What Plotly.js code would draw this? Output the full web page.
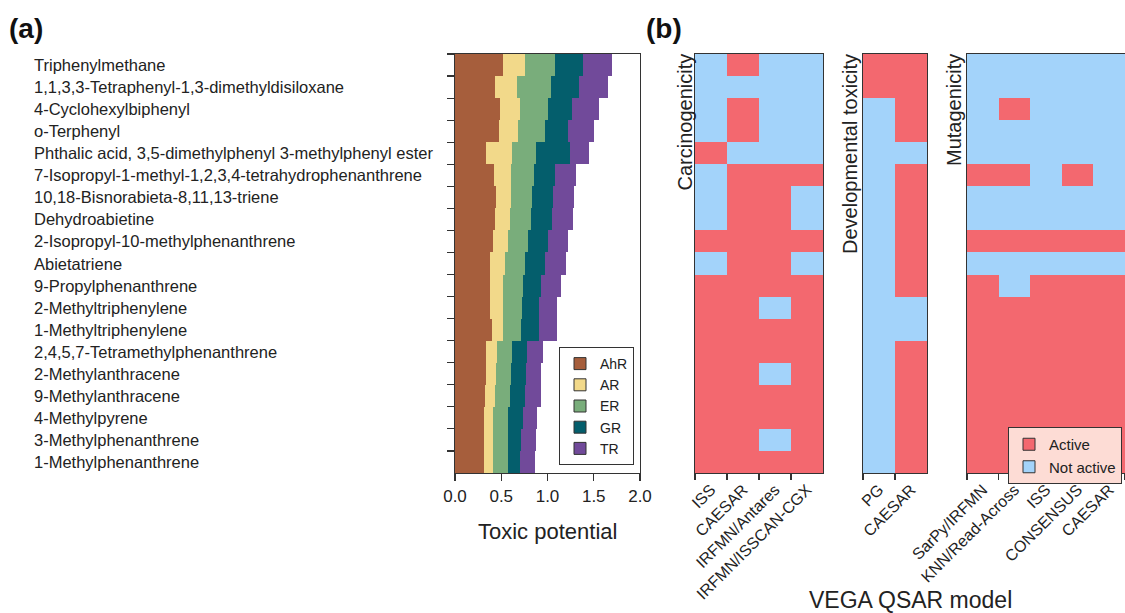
<!DOCTYPE html>
<html>
<head>
<meta charset="utf-8">
<script src="https://cdn.plot.ly/plotly-3.0.1.min.js"></script>
<style>
html, body { margin: 0; padding: 0; overflow: hidden; background: #fff; }
#chart { width: 1125px; height: 613px; }
</style>
</head>
<body>
<div id="chart"></div>
<script>
// ---------- data ----------
const compounds = [
  "Triphenylmethane",
  "1,1,3,3-Tetraphenyl-1,3-dimethyldisiloxane",
  "4-Cyclohexylbiphenyl",
  "o-Terphenyl",
  "Phthalic acid, 3,5-dimethylphenyl 3-methylphenyl ester",
  "7-Isopropyl-1-methyl-1,2,3,4-tetrahydrophenanthrene",
  "10,18-Bisnorabieta-8,11,13-triene",
  "Dehydroabietine",
  "2-Isopropyl-10-methylphenanthrene",
  "Abietatriene",
  "9-Propylphenanthrene",
  "2-Methyltriphenylene",
  "1-Methyltriphenylene",
  "2,4,5,7-Tetramethylphenanthrene",
  "2-Methylanthracene",
  "9-Methylanthracene",
  "4-Methylpyrene",
  "3-Methylphenanthrene",
  "1-Methylphenanthrene"
];
const seriesNames = ["AhR", "AR", "ER", "GR", "TR"];
const ahr = [0.52,0.43,0.49,0.48,0.335,0.425,0.44,0.43,0.415,0.38,0.38,0.38,0.40,0.34,0.335,0.325,0.315,0.315,0.315];
const ar  = [0.24,0.24,0.21,0.20,0.285,0.18,0.165,0.165,0.155,0.16,0.135,0.135,0.12,0.11,0.105,0.105,0.10,0.10,0.10];
const er  = [0.32,0.37,0.31,0.29,0.26,0.245,0.225,0.225,0.22,0.22,0.215,0.205,0.195,0.17,0.165,0.165,0.16,0.155,0.155];
const gr  = [0.30,0.30,0.26,0.25,0.36,0.23,0.23,0.225,0.21,0.21,0.20,0.185,0.19,0.155,0.16,0.16,0.155,0.145,0.13];
const tr  = [0.32,0.31,0.29,0.28,0.21,0.23,0.23,0.235,0.225,0.23,0.22,0.20,0.20,0.18,0.17,0.17,0.16,0.16,0.165];
const xTicks = [0, 0.5, 1.0, 1.5, 2.0];

const carcModels = ["ISS", "CAESAR", "IRFMN/Antares", "IRFMN/ISSCAN-CGX"];
const devModels  = ["PG", "CAESAR"];
const mutModels  = ["SarPy/IRFMN", "KNN/Read-Across", "ISS", "CONSENSUS", "CAESAR"];
// 1 = Active, 0 = Not active ; rows follow `compounds`
const carcActive = [
  [0,1,0,0],[0,0,0,0],[0,1,0,0],[0,1,0,0],[1,0,0,0],
  [0,1,1,1],[0,1,1,0],[0,1,1,0],[1,1,1,1],[0,1,1,0],
  [1,1,1,1],[1,1,0,1],[1,1,1,1],[1,1,1,1],[1,1,0,1],
  [1,1,1,1],[1,1,1,1],[1,1,0,1],[1,1,1,1]
];
const devActive = [
  [1,1],[1,1],[0,1],[0,1],[0,0],
  [0,1],[0,1],[0,1],[0,1],[0,1],
  [0,1],[0,0],[0,0],[0,1],[0,1],
  [0,1],[0,1],[0,1],[0,1]
];
const mutActive = [
  [0,0,0,0,0],[0,0,0,0,0],[0,1,0,0,0],[0,0,0,0,0],[0,0,0,0,0],
  [1,1,0,1,0],[0,0,0,0,0],[0,0,0,0,0],[1,1,1,1,1],[0,0,0,0,0],
  [1,0,1,1,1],[1,1,1,1,1],[1,1,1,1,1],[1,1,1,1,1],[1,1,1,1,1],
  [1,1,1,1,1],[1,1,1,1,1],[1,1,1,1,1],[1,1,1,1,1]
];
const activityNames = ["Active", "Not active"];

// ---------- styling ----------
const W = 1125, H = 613;
const px = v => v / W;
const py = v => 1 - v / H;
const FONT = "Liberation Sans, Arial, sans-serif";
const TXT = "#222";
const LINE = "#333";
const seriesColors = ["#a65e3c", "#f2d98a", "#79ad7b", "#045e6c", "#714a9a"];
const RED = "#f3686f", BLUE = "#a3d3fa";
const seriesData = [ahr, ar, er, gr, tr];

const traces = [];
seriesData.forEach((vals, i) => {
  traces.push({
    type: "bar", orientation: "h", x: vals, y: compounds,
    name: seriesNames[i], showlegend: false,
    marker: { color: seriesColors[i], line: { width: 0 } },
    xaxis: "x", yaxis: "y", hoverinfo: "skip"
  });
});
// legend entries for bars
seriesData.forEach((vals, i) => {
  traces.push({
    type: "bar", orientation: "h", x: [null], y: [compounds[0]],
    name: seriesNames[i], showlegend: true, legend: "legend",
    marker: { color: seriesColors[i], line: { width: 1, color: LINE } },
    xaxis: "x", yaxis: "y", hoverinfo: "skip"
  });
});

const cs = [[0, BLUE], [0.5, BLUE], [0.5, RED], [1, RED]];
[[carcModels, carcActive, "x2", "y2"], [devModels, devActive, "x3", "y3"], [mutModels, mutActive, "x4", "y4"]]
  .forEach(([models, z, xa, ya]) => {
    traces.push({
      type: "heatmap", x: models, y: compounds, z: z,
      zmin: 0, zmax: 1, colorscale: cs, showscale: false,
      xaxis: xa, yaxis: ya, hoverinfo: "skip", showlegend: false
    });
  });
// legend entries for heatmaps
[RED, BLUE].forEach((c, i) => {
  traces.push({
    type: "bar", x: [null], y: [null], name: activityNames[i],
    showlegend: true, legend: "legend2",
    marker: { color: c, line: { width: 1, color: LINE } },
    xaxis: "x5", yaxis: "y5", hoverinfo: "skip"
  });
});

const yDom = [py(473), py(54)];
const frame = { showline: true, mirror: true, linecolor: LINE, linewidth: 1.2, showgrid: false, zeroline: false };
const hmX = (d) => Object.assign({}, frame, {
  domain: d, type: "category", tickson: "boundaries", ticks: "outside", ticklen: 6,
  tickcolor: LINE, tickwidth: 1.2, tickangle: -45, tickfont: { size: 16, color: TXT, family: FONT },
  fixedrange: true
});
const hmY = (xa) => Object.assign({}, frame, {
  domain: yDom, type: "category", autorange: "reversed", showticklabels: false, ticks: "",
  anchor: xa, fixedrange: true
});

const annotations = compounds.map(c => ({
  xref: "paper", x: px(32), xanchor: "left", yref: "y", y: c, yanchor: "middle",
  text: c, showarrow: false, font: { size: 16.5, color: TXT, family: FONT }
}));
annotations.push(
  { xref: "paper", yref: "paper", x: px(7), y: py(29), xanchor: "left", yanchor: "middle",
    text: "<b>(a)</b>", showarrow: false, font: { size: 28, color: "#111", family: FONT } },
  { xref: "paper", yref: "paper", x: px(644), y: py(28), xanchor: "left", yanchor: "middle",
    text: "<b>(b)</b>", showarrow: false, font: { size: 28, color: "#111", family: FONT } },
  { xref: "paper", yref: "paper", x: px(547.5), y: py(531), xanchor: "center", yanchor: "middle",
    text: "Toxic potential", showarrow: false, font: { size: 22, color: TXT, family: FONT } },
  { xref: "paper", yref: "paper", x: px(910), y: py(600), xanchor: "center", yanchor: "middle",
    text: "VEGA QSAR model", showarrow: false, font: { size: 23, color: TXT, family: FONT } },
  { xref: "paper", yref: "paper", x: px(684), y: py(52), xanchor: "center", yanchor: "top",
    textangle: -90, text: "Carcinogenicity", showarrow: false, font: { size: 20, color: TXT, family: FONT } },
  { xref: "paper", yref: "paper", x: px(850), y: py(52), xanchor: "center", yanchor: "top",
    textangle: -90, text: "Developmental toxicity", showarrow: false, font: { size: 20, color: TXT, family: FONT } },
  { xref: "paper", yref: "paper", x: px(954), y: py(52), xanchor: "center", yanchor: "top",
    textangle: -90, text: "Mutagenicity", showarrow: false, font: { size: 20, color: TXT, family: FONT } }
);

const layout = {
  width: W, height: H,
  margin: { l: 0, r: 0, t: 0, b: 0, pad: 0 },
  paper_bgcolor: "#fff", plot_bgcolor: "#fff",
  font: { family: FONT, color: TXT },
  barmode: "stack", bargap: 0,
  xaxis: Object.assign({}, frame, {
    domain: [px(455), px(640)], range: [0, 2], tickvals: xTicks, tickformat: ".1f",
    ticks: "outside", ticklen: 7, tickcolor: LINE, tickwidth: 1.2,
    tickfont: { size: 17, color: TXT, family: FONT }, anchor: "y", fixedrange: true
  }),
  yaxis: Object.assign({}, frame, {
    domain: yDom, type: "category", autorange: "reversed", tickson: "boundaries",
    ticks: "outside", ticklen: 7, tickcolor: LINE, tickwidth: 1.2,
    showticklabels: false, anchor: "x", fixedrange: true
  }),
  xaxis2: Object.assign(hmX([px(695), px(823)]), { anchor: "y2" }),
  yaxis2: hmY("x2"),
  xaxis3: Object.assign(hmX([px(863), px(927)]), { anchor: "y3" }),
  yaxis3: hmY("x3"),
  xaxis4: Object.assign(hmX([px(967), 1]), { anchor: "y4" }),
  yaxis4: hmY("x4"),
  xaxis5: { domain: [0, 0.01], visible: false, anchor: "y5" },
  yaxis5: { domain: [0, 0.01], visible: false, anchor: "x5" },
  showlegend: true,
  legend: {
    x: px(634), y: py(465), xanchor: "right", yanchor: "bottom",
    bgcolor: "#fff", bordercolor: LINE, borderwidth: 1,
    font: { size: 14, color: TXT, family: FONT }, traceorder: "normal",
    itemwidth: 30, tracegroupgap: 0
  },
  legend2: {
    x: px(1122), y: py(427), xanchor: "right", yanchor: "top",
    bgcolor: "#fddcd5", bordercolor: LINE, borderwidth: 1,
    font: { size: 15, color: TXT, family: FONT }, traceorder: "normal",
    itemwidth: 30, tracegroupgap: 0
  },
  annotations: annotations
};

Plotly.newPlot("chart", traces, layout, { staticPlot: true, displayModeBar: false });
</script>
</body>
</html>
